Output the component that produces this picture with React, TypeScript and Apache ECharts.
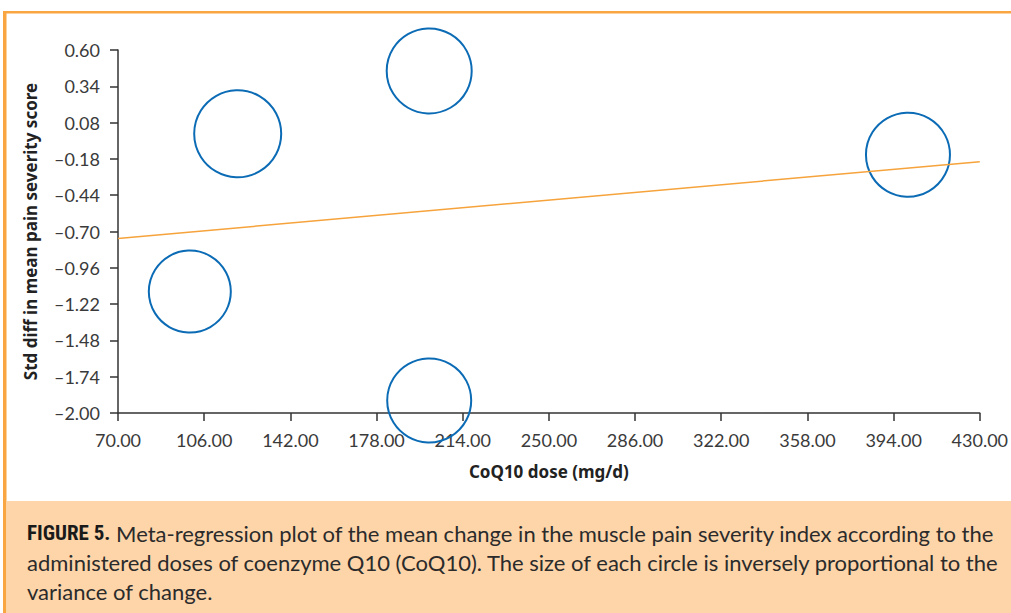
import React, { useEffect, useRef } from "react";
import * as echarts from "echarts";

const doses = [120, 200, 400, 100, 200];
const effects = [0.0, 0.45, -0.15, -1.13, -1.91];
const circleSizes = [87, 85, 84, 82, 84];
const regressionX = [70, 430];
const regressionY = [-0.75, -0.2];
const xTicks = [70, 106, 142, 178, 214, 250, 286, 322, 358, 394, 430];
const yTicks = [-2.0, -1.74, -1.48, -1.22, -0.96, -0.7, -0.44, -0.18, 0.08, 0.34, 0.6];
const captionLines = [
  "Meta-regression plot of the mean change in the muscle pain severity index according to the",
  "administered doses of coenzyme Q10 (CoQ10). The size of each circle is inversely proportional to the",
  "variance of change.",
];

const fmt = (v: number) => (v < 0 ? "\u2013" : "") + Math.abs(v).toFixed(2);

export default function App() {
  const ref = useRef<HTMLDivElement>(null);
  useEffect(() => {
    if (!ref.current) return;
    const chart = echarts.init(ref.current, null, { renderer: "svg" });
    const labelFont = { fontFamily: "Lato", fontSize: 18, color: "#3a3a3a", fontWeight: "normal" };
    const nameFont = { fontFamily: "Noto Sans", fontWeight: "bold", fontSize: 17, color: "#222" };
    chart.setOption({
      animation: false,
      backgroundColor: "#fff",
      grid: { left: 118, right: 31, top: 50, bottom: 200, containLabel: false },
      xAxis: {
        type: "value",
        min: 70,
        max: 430,
        name: "CoQ10 dose (mg/d)",
        nameLocation: "middle",
        nameGap: 50,
        nameTextStyle: nameFont,
        axisLine: { show: true, onZero: false, lineStyle: { color: "#333", width: 1.5 } },
        axisTick: { show: true, length: 8, lineStyle: { color: "#333", width: 1.5 }, customValues: xTicks },
        axisLabel: { ...labelFont, margin: 18, formatter: fmt, customValues: xTicks },
        splitLine: { show: false },
      },
      yAxis: {
        type: "value",
        min: -2,
        max: 0.6,
        name: "Std diff in mean pain severity score",
        nameLocation: "middle",
        nameGap: 79,
        nameTextStyle: nameFont,
        axisLine: { show: true, onZero: false, lineStyle: { color: "#333", width: 1.5 } },
        axisTick: { show: true, length: 8, lineStyle: { color: "#333", width: 1.5 }, customValues: yTicks },
        axisLabel: { ...labelFont, margin: 18, formatter: fmt, customValues: yTicks },
        splitLine: { show: false },
      },
      series: [
        {
          type: "line",
          data: regressionX.map((x, i) => [x, regressionY[i]]),
          symbol: "none",
          lineStyle: { color: "#f6a33c", width: 1.5 },
          z: 3,
        },
        {
          type: "scatter",
          data: doses.map((d, i) => [d, effects[i], circleSizes[i]]),
          symbol: "circle",
          symbolSize: (v: number[]) => v[2],
          itemStyle: { color: "rgba(0,0,0,0)", borderColor: "#0b6bb5", borderWidth: 2, opacity: 1 },
          z: 2,
        },
      ],
      graphic: [
        { type: "rect", shape: { x: 3, y: 11, width: 1008, height: 2.5 }, style: { fill: "#f9a541" } },
        { type: "rect", shape: { x: 3, y: 11, width: 3.5, height: 602 }, style: { fill: "#f9a541" } },
        { type: "rect", shape: { x: 6.5, y: 501, width: 1005, height: 112 }, style: { fill: "#fdd5a9" } },
        {
          type: "text",
          x: 27,
          y: 533,
          style: {
            text: "{b|FIGURE 5.} " + captionLines[0],
            fontFamily: "Lato",
            fontSize: 22,
            fill: "#2b2b2b",
            verticalAlign: "middle",
            rich: {
              b: { fontFamily: "Roboto Condensed, Roboto", fontWeight: "bold", fontSize: 21, fill: "#1a1a1a" },
            },
          },
        },
        {
          type: "text",
          x: 27,
          y: 562,
          style: { text: captionLines[1], fontFamily: "Lato", fontSize: 22, fill: "#2b2b2b", verticalAlign: "middle" },
        },
        {
          type: "text",
          x: 27,
          y: 591,
          style: { text: captionLines[2], fontFamily: "Lato", fontSize: 22, fill: "#2b2b2b", verticalAlign: "middle" },
        },
      ],
    });
    return () => chart.dispose();
  }, []);
  return <div ref={ref} style={{ position: "absolute", left: 0, top: 0, width: 1011, height: 613 }} />;
}
